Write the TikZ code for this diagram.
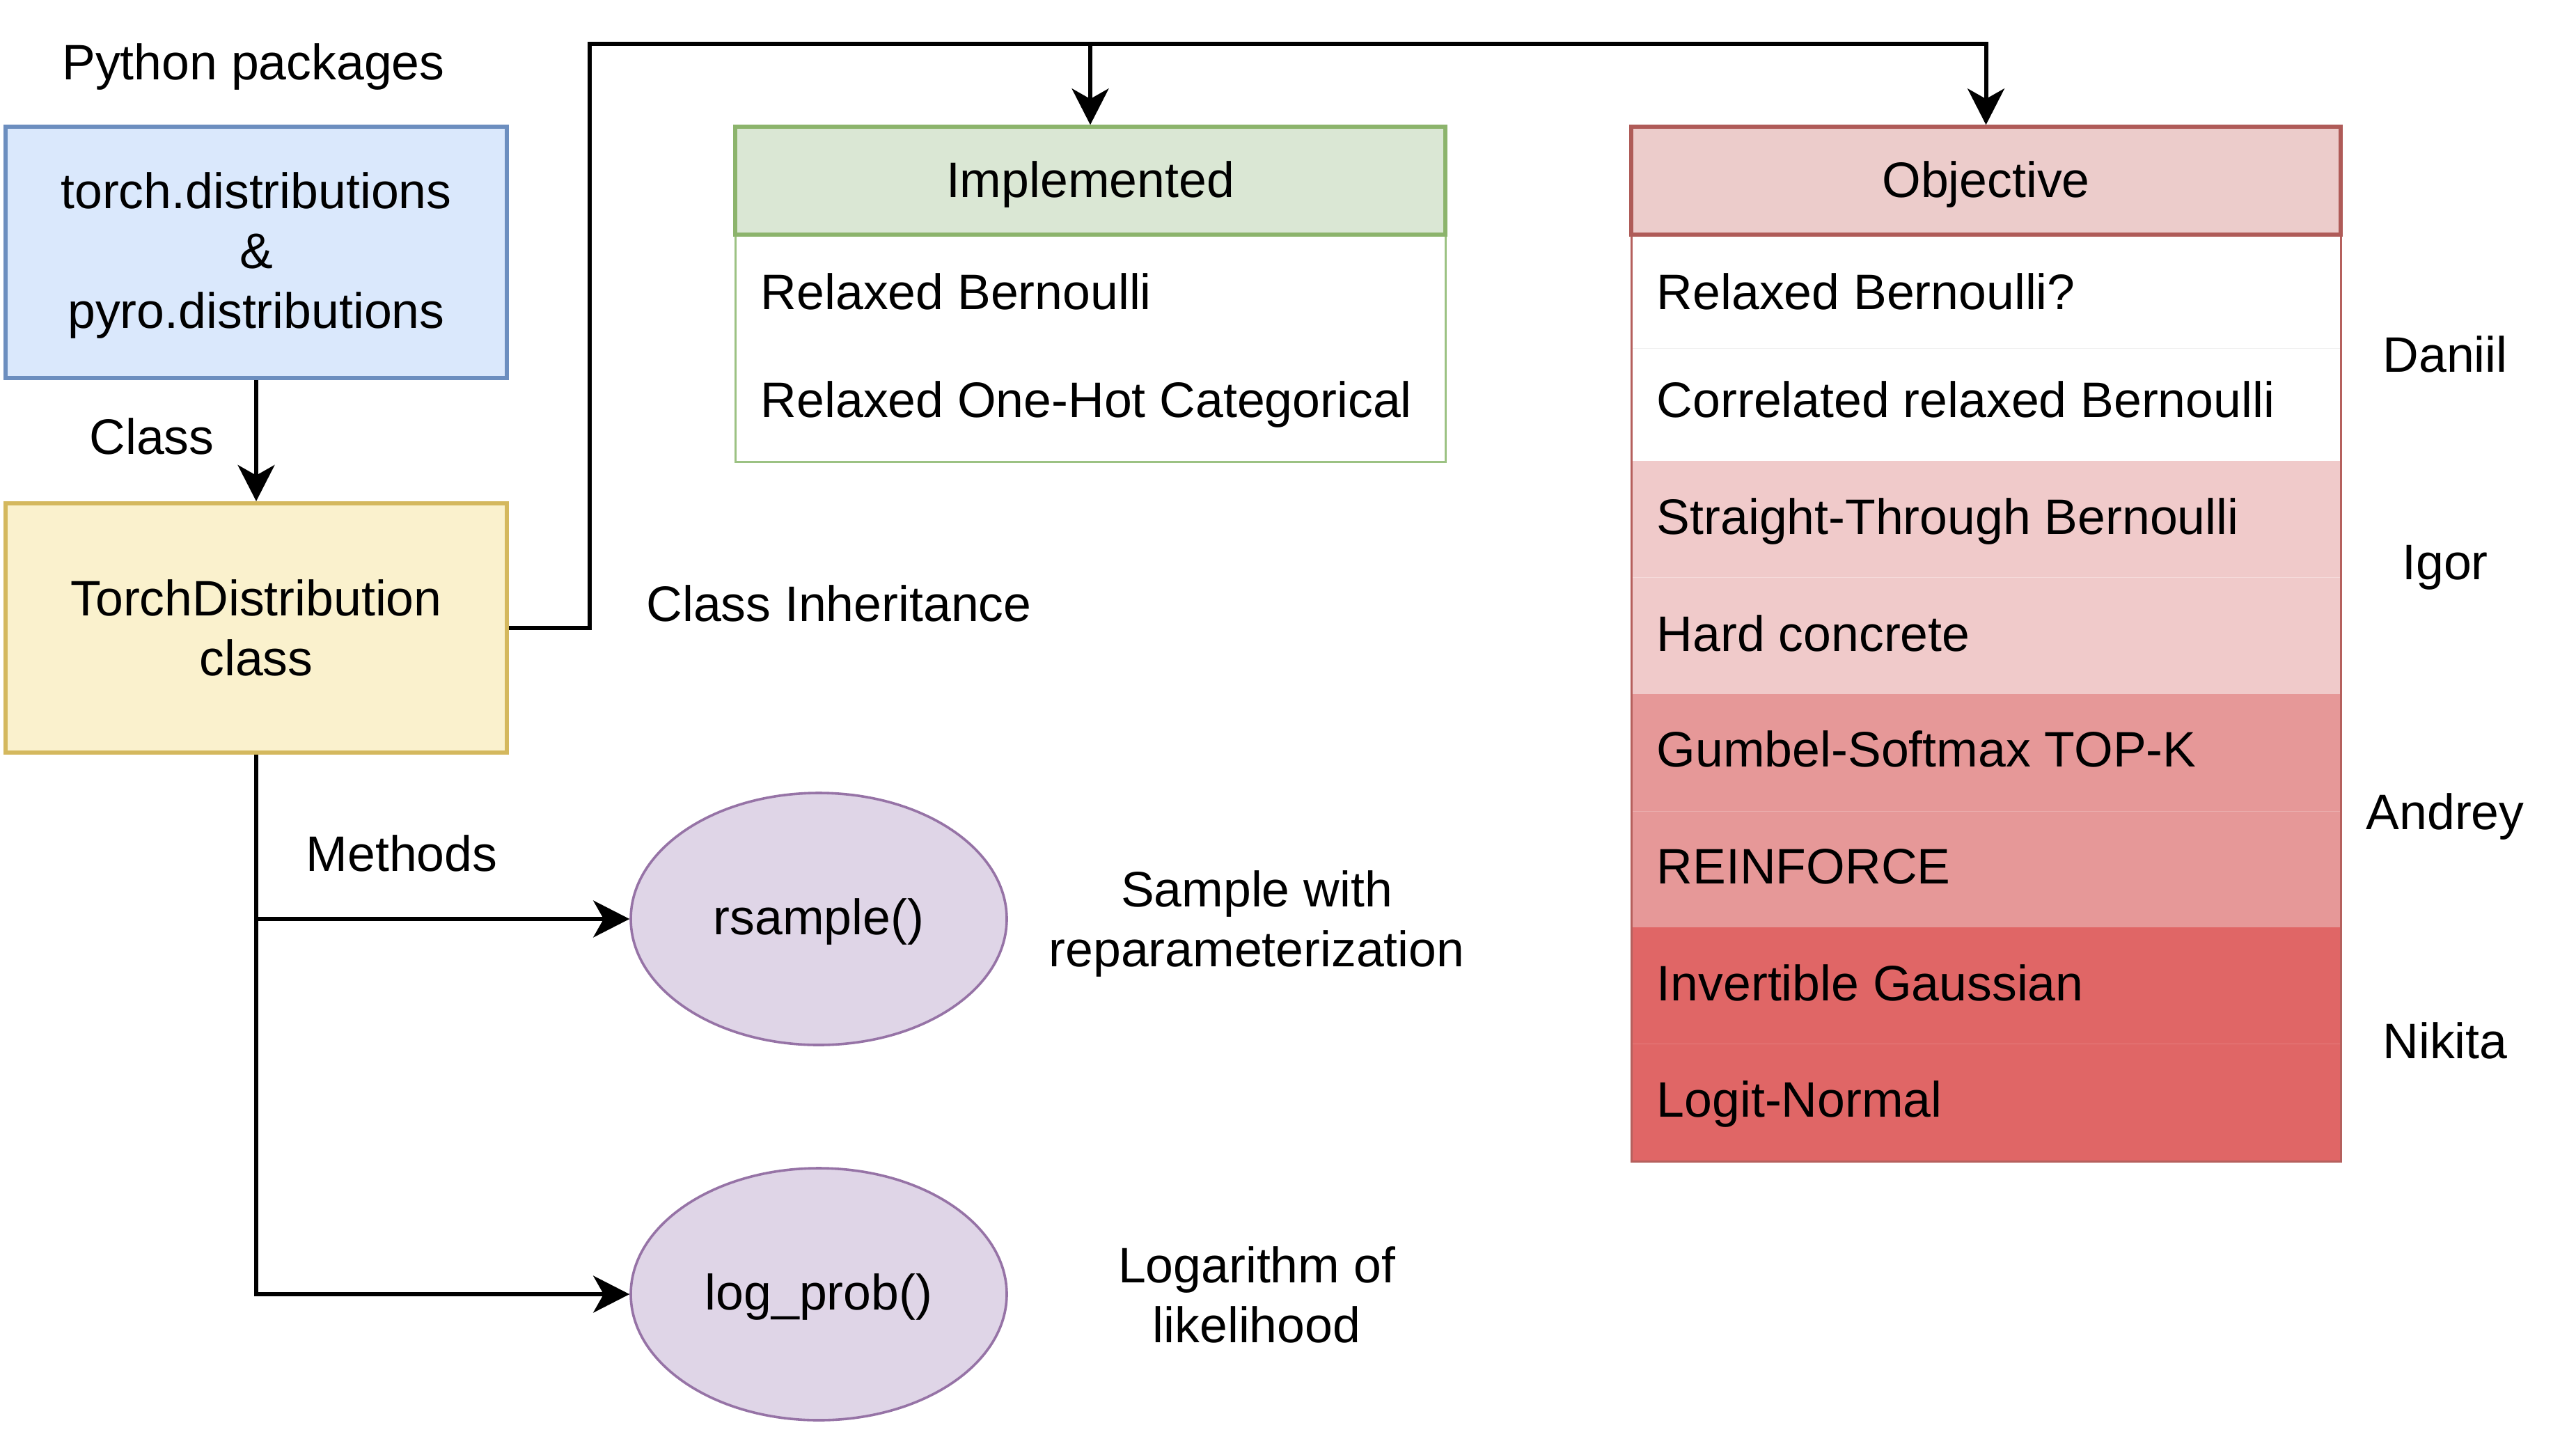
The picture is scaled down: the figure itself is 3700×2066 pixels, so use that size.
\documentclass[tikz,border=0pt]{standalone}
\usepackage{fontspec}
\setmainfont{Liberation Sans}
\usetikzlibrary{arrows.meta,shapes.geometric}
\definecolor{bluefill}{HTML}{DAE8FC}
\definecolor{blueline}{HTML}{6C8EBF}
\definecolor{yelfill}{HTML}{FAF1CD}
\definecolor{yelline}{HTML}{D4B85E}
\definecolor{greenfill}{HTML}{DAE7D4}
\definecolor{greenthick}{HTML}{8CB46C}
\definecolor{greenthin}{HTML}{9CC283}
\definecolor{redthick}{HTML}{AF5B58}
\definecolor{redthin}{HTML}{B5605D}
\definecolor{objhdfill}{HTML}{ECCCCB}
\definecolor{igorfill}{HTML}{F0CACA}
\definecolor{andreyfill}{HTML}{E69898}
\definecolor{nikitafill}{HTML}{E06666}
\definecolor{purpfill}{HTML}{DFD5E7}
\definecolor{purpline}{HTML}{9673A6}
\begin{document}
\begin{tikzpicture}[x=0.25pt,y=-0.25pt,
  font=\fontsize{17.9pt}{21.5pt}\selectfont,
  conn/.style={line width=1.5pt,-{Stealth[length=13pt,width=13.2pt,inset=3.7pt]}},
  lbl/.style={inner sep=0pt,text height=12.8pt,text depth=0pt},
  item/.style={lbl,anchor=west},
  pkgbox/.style={draw=blueline,fill=bluefill,line width=1.5pt,minimum width=180pt,minimum height=90.25pt,align=center,inner sep=0pt},
  classbox/.style={draw=yelline,fill=yelfill,line width=1.5pt,minimum width=180pt,minimum height=89.5pt,align=center,inner sep=0pt},
  implhd/.style={draw=greenthick,fill=greenfill,line width=1.35pt,minimum width=255pt,minimum height=38.75pt,inner sep=0pt,text height=13pt,text depth=1.1pt},
  objhd/.style={draw=redthick,fill=objhdfill,line width=1.35pt,minimum width=254.75pt,minimum height=38.75pt,inner sep=0pt,text height=13pt,text depth=1.1pt},
  meth/.style={ellipse,draw=purpline,fill=purpfill,line width=0.9pt,minimum width=135pt,minimum height=90.5pt,inner sep=0pt,text height=13pt,text depth=1.9pt},
  desc/.style={align=center,inner sep=0pt}]
\useasboundingbox (0,0) rectangle (3700,2066);

% left column
\node[lbl] (pyth) at (364,89) {Python packages};
\node[pkgbox] (pkgs) at (368,362.5) {\rule{0pt}{15.1pt}torch.distributions\\\&\\pyro.distributions};
\node[classbox] (tdist) at (368,902) {TorchDistribution\\class};
\node[lbl] (clslbl) at (218,627) {Class};
\draw[conn] (pkgs) -- (tdist);

% Implemented box
\draw[greenthin,line width=0.75pt] (1056,337) rectangle (2076,663);
\node[implhd] (implhead) at (1566,259.5) {Implemented};
\node[item] (ib1) at (1092,419) {Relaxed Bernoulli};
\node[item] (ib2) at (1092,574) {Relaxed One-Hot Categorical};

% Objective box
\fill[igorfill] (2343,662) rectangle (3362,997);
\fill[andreyfill] (2343,997) rectangle (3362,1332);
\fill[nikitafill] (2343,1332) rectangle (3362,1668);
\draw[black!6,line width=0.25pt] (2343,500) -- (3362,500);
\draw[igorfill!70!white,line width=0.25pt] (2343,829) -- (3362,829);
\draw[andreyfill!80!white,line width=0.25pt] (2343,1165) -- (3362,1165);
\draw[nikitafill!85!white,line width=0.25pt] (2343,1499) -- (3362,1499);
\draw[redthin,line width=0.75pt] (2343,337) rectangle (3362,1668);
\node[objhd] (objhead) at (2852.5,259.5) {Objective};
\node[item] (ob1) at (2379,419) {Relaxed Bernoulli?};
\node[item] (ob2) at (2379,574) {Correlated relaxed Bernoulli};
\node[item] (ob3) at (2379,742) {Straight-Through Bernoulli};
\node[item] (ob4) at (2379,910) {Hard concrete};
\node[item] (ob5) at (2379,1076) {Gumbel-Softmax TOP-K};
\node[item] (ob6) at (2379,1244) {REINFORCE};
\node[item] (ob7) at (2379,1412) {Invertible Gaussian};
\node[item] (ob8) at (2379,1579) {Logit-Normal};

% names
\node[lbl] (daniil) at (3512,509) {Daniil};
\node[lbl] (igor) at (3512,807) {Igor};
\node[lbl] (andrey) at (3512,1166) {Andrey};
\node[lbl] (nikita) at (3512,1495) {Nikita};

% inheritance
\coordinate (inhtop) at (847,63);
\node[lbl] (inhlbl) at (1205,867) {Class Inheritance};
\draw[conn] (tdist.east) -| (inhtop) -| (objhead.north);
\draw[conn] (implhead.north |- inhtop) -- (implhead.north);

% methods
\node[meth] (rs) at (1176,1320) {rsample()};
\node[meth] (lp) at (1176,1859) {log\_prob()};
\node[lbl] (methlbl) at (577,1226) {Methods};
\draw[conn] (tdist.south) |- (lp.west);
\draw[conn] (tdist.south |- rs.west) -- (rs.west);
\node[desc] (rsdesc) at (1805,1321) {\rule{0pt}{16pt}Sample with\\reparameterization};
\node[desc] (lpdesc) at (1805,1860) {Logarithm of\\likelihood};
\end{tikzpicture}
\end{document}
